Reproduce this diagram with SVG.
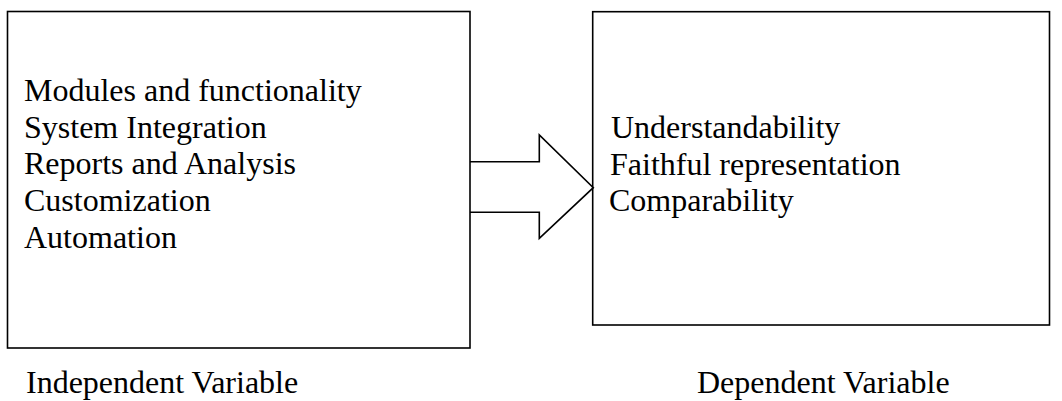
<svg xmlns="http://www.w3.org/2000/svg" width="1062" height="401" viewBox="0 0 1062 401">
<style>
.box{fill:none;stroke:#000;stroke-width:1.6}
.t{font-family:"Liberation Serif","Times New Roman",serif;font-size:32px;fill:#000}
.arrow{fill:#fff;stroke:#000;stroke-width:1.6;stroke-linejoin:miter}
</style>
<rect width="1062" height="401" fill="#fff"/>
<g id="connectors">
<path class="arrow" d="M470 161.7 H539.3 V135 L593.3 187.7 L539.3 238.3 V212.3 H470"/>
</g>
<g id="independent">
<rect class="box" x="7.5" y="11.5" width="462.5" height="336.5"/>
<text class="t" x="24" y="101">Modules and functionality</text>
<text class="t" x="24" y="137.7">System Integration</text>
<text class="t" x="24" y="174.4">Reports and Analysis</text>
<text class="t" x="24" y="211.1">Customization</text>
<text class="t" x="24" y="247.8">Automation</text>
<text class="t" x="26" y="393">Independent Variable</text>
</g>
<g id="dependent">
<rect class="box" x="592.7" y="11.7" width="456.8" height="313.3"/>
<text class="t" x="611" y="138.3">Understandability</text>
<text class="t" x="610" y="175">Faithful representation</text>
<text class="t" x="609" y="211.3">Comparability</text>
<text class="t" x="697" y="393">Dependent Variable</text>
</g>
</svg>
